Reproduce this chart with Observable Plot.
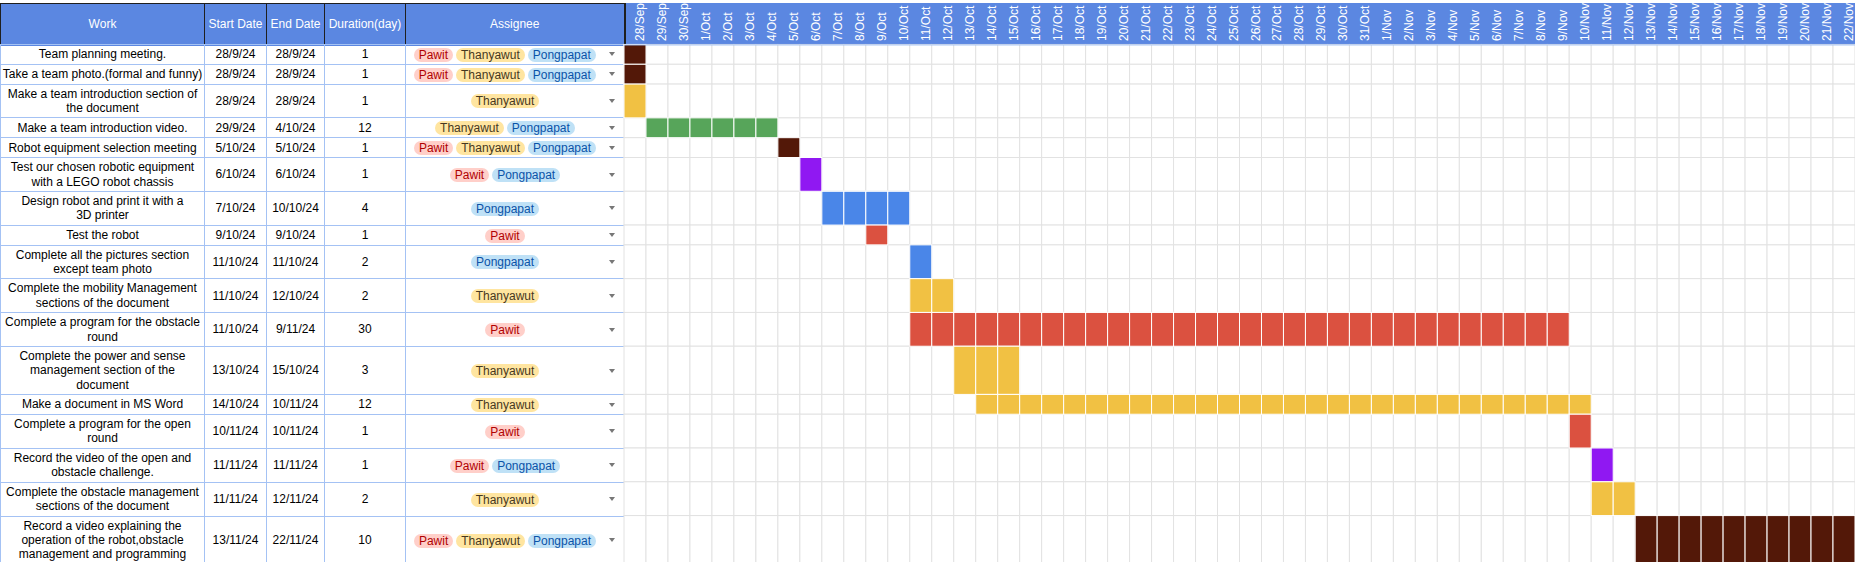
<!DOCTYPE html>
<html><head><meta charset="utf-8">
<script src="https://cdn.jsdelivr.net/npm/d3@7"></script>
<script src="https://cdn.jsdelivr.net/npm/@observablehq/plot@0.6"></script>
<style>
html,body{margin:0;padding:0;background:#fff;overflow:hidden}
#wrap{position:relative;width:1855px;height:562px;overflow:hidden;font-family:Arial,"Liberation Sans",sans-serif;}
#band{position:absolute;left:0;top:3px;width:1855px;height:43px;background:#5b87e1}
#tbl{position:absolute;left:0;top:3px;border-collapse:collapse;table-layout:fixed;width:624px;font-size:12px;color:#000}
#tbl th{background:#5b87e1;color:#fff;font-weight:normal;border:1px solid #1f1f1f;border-bottom:1px solid #a4c2f4;height:40px;padding:0;text-align:center;vertical-align:middle;white-space:nowrap}
#tbl th.last{border-right:2px solid #1f1f1f}
#tbl td{border:1px solid #a4c2f4;padding:2px 1px;line-height:14.4px;text-align:center;vertical-align:middle;white-space:pre;overflow:hidden}
#tbl td.dark{border-right:2px solid #333}
.chip{display:inline-block;height:14px;line-height:14px;border-radius:7px;padding:0 5px;margin:0 1.5px;vertical-align:middle;white-space:nowrap}
#tbl td.asg{position:relative;padding-left:2px;padding-right:22px}
.arrow{position:absolute;right:9px;top:50%;margin-top:-2px;width:0;height:0;border-left:3.5px solid transparent;border-right:3.5px solid transparent;border-top:4px solid #777}
#gantt{position:absolute;left:624px;top:0}
</style></head>
<body>
<div id="wrap"><div id="band"></div><table id="tbl"></table><div id="gantt"></div></div>
<script>
// ---------- data ----------
const headers = ["Work", "Start Date", "End Date", "Duration(day)", "Assignee"];
const works = [
  "Team planning meeting.",
  "Take a team photo.(formal and funny)",
  "Make a team introduction section of\nthe document",
  "Make a team introduction video.",
  "Robot equipment selection meeting",
  "Test our chosen robotic equipment\nwith a LEGO robot chassis",
  "Design robot and print it with a\n3D printer",
  "Test the robot",
  "Complete all the pictures section\nexcept team photo",
  "Complete the mobility Management\nsections of the document",
  "Complete a program for the obstacle\nround",
  "Complete the power and sense\nmanagement section of the\ndocument",
  "Make a document in MS Word",
  "Complete a program for the open\nround",
  "Record the video of the open and\nobstacle challenge.",
  "Complete the obstacle management\nsections of the document",
  "Record a video explaining the\noperation of the robot,obstacle\nmanagement and programming"
];
const startDates = ["28/9/24","28/9/24","28/9/24","29/9/24","5/10/24","6/10/24","7/10/24","9/10/24","11/10/24","11/10/24","11/10/24","13/10/24","14/10/24","10/11/24","11/11/24","11/11/24","13/11/24"];
const endDates   = ["28/9/24","28/9/24","28/9/24","4/10/24","5/10/24","6/10/24","10/10/24","9/10/24","11/10/24","12/10/24","9/11/24","15/10/24","10/11/24","10/11/24","11/11/24","12/11/24","22/11/24"];
const durations  = [1,1,1,12,1,1,4,1,2,2,30,3,12,1,1,2,10];
const assignees = [
  ["Pawit","Thanyawut","Pongpapat"],
  ["Pawit","Thanyawut","Pongpapat"],
  ["Thanyawut"],
  ["Thanyawut","Pongpapat"],
  ["Pawit","Thanyawut","Pongpapat"],
  ["Pawit","Pongpapat"],
  ["Pongpapat"],
  ["Pawit"],
  ["Pongpapat"],
  ["Thanyawut"],
  ["Pawit"],
  ["Thanyawut"],
  ["Thanyawut"],
  ["Pawit"],
  ["Pawit","Pongpapat"],
  ["Thanyawut"],
  ["Pawit","Thanyawut","Pongpapat"]
];
const firstDay = "28/9/24", lastDay = "22/11/24";

// ---------- styles ----------
const people = ["Pawit","Thanyawut","Pongpapat"];
const chipBg = ["#ffcfc9","#ffe5a0","#bfe1f6"];
const chipFg = ["#b10202","#473821","#0a53a8"];
const combos = ["Pawit, Thanyawut, Pongpapat","Thanyawut","Thanyawut, Pongpapat","Pawit, Pongpapat","Pongpapat","Pawit"];
const comboColors = ["#531808","#f1c143","#57a55a","#9018f2","#4a86e8","#db5140"];
const colWidths = [204, 62, 58, 81, 219];
const dayWidth = 22;

// ---------- table ----------
const tbl = document.getElementById("tbl");
const cg = document.createElement("colgroup");
colWidths.forEach(w => { const c = document.createElement("col"); c.style.width = w + "px"; cg.appendChild(c); });
tbl.appendChild(cg);
const thead = tbl.createTHead();
const hr = thead.insertRow();
headers.forEach((h, i) => { const th = document.createElement("th"); th.textContent = h; if (i === headers.length - 1) th.className = "last"; hr.appendChild(th); });
const tbody = tbl.createTBody();
works.forEach((w, i) => {
  const tr = tbody.insertRow();
  [w, startDates[i], endDates[i], String(durations[i])].forEach(t => { const td = tr.insertCell(); td.textContent = t; });
  const td = tr.insertCell(); td.className = "asg" + (i < 2 ? " dark" : "");
  assignees[i].forEach(p => {
    const k = people.indexOf(p);
    const s = document.createElement("span"); s.className = "chip"; s.textContent = p;
    s.style.background = chipBg[k]; s.style.color = chipFg[k];
    td.appendChild(s);
  });
  const a = document.createElement("span"); a.className = "arrow"; td.appendChild(a);
});

// ---------- measure rows ----------
const wrap = document.getElementById("wrap");
const wTop = wrap.getBoundingClientRect().top;
const rows = [...tbody.rows];
const tops = rows.map(r => r.getBoundingClientRect().top - wTop);
const lastBottom = rows[rows.length - 1].getBoundingClientRect().bottom - wTop;
const y0 = tops[0];
const bounds = tops.concat([lastBottom]).map(v => v - y0);
const total = bounds[bounds.length - 1];

// ---------- gantt data ----------
const parse = d3.utcParse("%d/%m/%y");
const key = d3.utcFormat("%Y-%m-%d");
const label = d3.utcFormat("%-d/%b");
const days = d3.utcDay.range(parse(firstDay), d3.utcDay.offset(parse(lastDay), 1));
const dayKeys = days.map(key);

const gridCells = [];
rows.forEach((r, i) => dayKeys.forEach(d => gridCells.push({day: d, y1: bounds[i], y2: bounds[i + 1]})));
const taskCells = [];
works.forEach((w, i) => {
  const s = parse(startDates[i]), e = d3.utcDay.offset(parse(endDates[i]), 1);
  d3.utcDay.range(s, e).forEach(d => taskCells.push({day: key(d), y1: bounds[i], y2: bounds[i + 1], combo: assignees[i].join(", ")}));
});

const ganttWidth = dayKeys.length * dayWidth;
const chart = Plot.plot({
  width: ganttWidth,
  height: Math.ceil(y0 + total),
  marginTop: y0, marginLeft: 0, marginRight: 0, marginBottom: 0,
  style: {background: "transparent", fontFamily: 'Arial, "Liberation Sans", sans-serif', fontSize: "12px", overflow: "visible"},
  x: {type: "band", domain: dayKeys, padding: 0, axis: null},
  y: {domain: [0, total], range: [y0, y0 + total], axis: null},
  color: {domain: combos, range: comboColors},
  marks: [
    Plot.barY(gridCells, {x: "day", y1: "y1", y2: "y2", fill: "white", stroke: "#e2e2e2", strokeWidth: 1}),
    Plot.barY(taskCells, {x: "day", y1: "y1", y2: "y2", fill: "combo", stroke: "white", strokeWidth: 1}),
    Plot.ruleY([0], {stroke: "#a4c2f4"}),
    Plot.text(dayKeys, {x: d => d, frameAnchor: "top", dy: -4, rotate: -90, textAnchor: "start", fill: "white", fontSize: 12,
      text: d => label(d3.utcParse("%Y-%m-%d")(d))})
  ]
});
document.getElementById("gantt").appendChild(chart);
</script>
</body></html>
